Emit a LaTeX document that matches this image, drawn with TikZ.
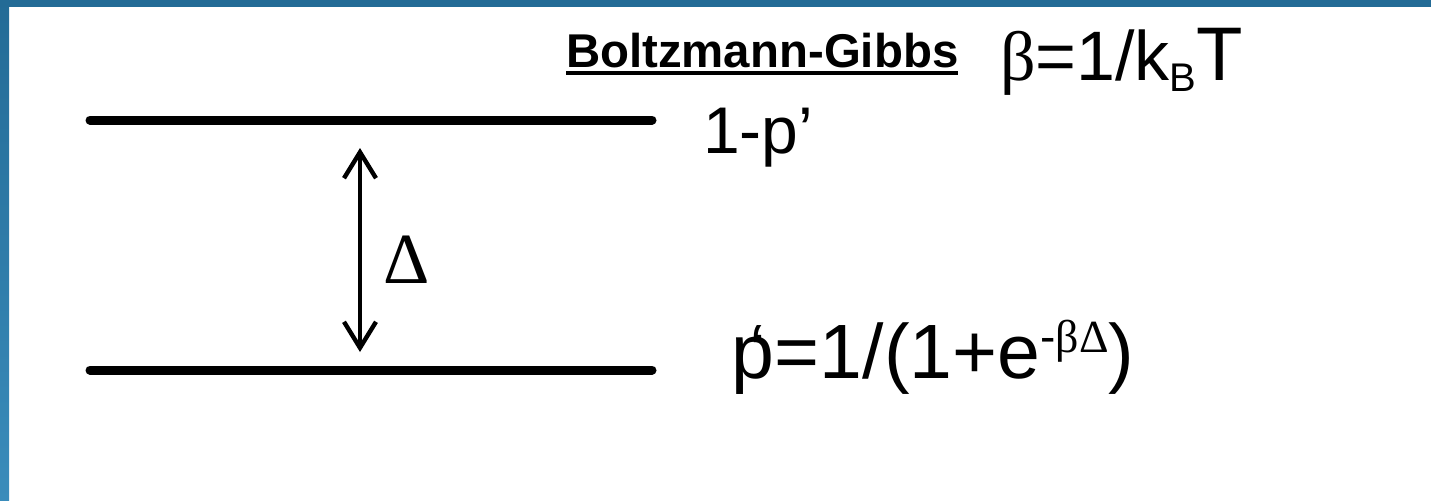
\documentclass[tikz,border=0pt]{standalone}
\usepackage{fontspec}
\setmainfont{Liberation Sans}
\newfontfamily\grk{Liberation Serif}
\usetikzlibrary{arrows.meta}
\definecolor{framebluetop}{HTML}{236B96}
\definecolor{framebluebot}{HTML}{3A8CBB}
\tikzset{
  lbl/.style={anchor=base west, inner sep=0pt, outer sep=0pt},
  levelline/.style={line width=4.5pt, line cap=round},
  gaparrow/.style={line width=2pt, {Straight Barb[length=13pt,width=16pt,line width=2.2pt]}-{Straight Barb[length=13pt,width=16pt,line width=2.2pt]}},
}
\newcommand{\fsz}[1]{\fontsize{#1}{#1}\selectfont}
\begin{document}
\begin{tikzpicture}[x=0.5pt,y=-0.5pt]
\useasboundingbox (0,0) rectangle (1431,500);
\fill[white] (0,0) rectangle (1431,500);
\shade[top color=framebluetop,bottom color=framebluebot] (0,0) rectangle (9,500);
\fill[framebluetop] (0,0) rectangle (1431,7);

\coordinate (u1) at (90,120); \coordinate (u2) at (652,120);
\coordinate (l1) at (90,370); \coordinate (l2) at (652,370);
\draw[levelline] (u1) -- (u2);
\draw[levelline] (l1) -- (l2);

\coordinate (at) at (360,148); \coordinate (ab) at (360,352);
\draw[gaparrow] (at) -- (ab);

\node[lbl] (delta) at (383,283) {\grk\fsz{36}Δ};

\node[lbl] (bg) at (566,67) {\fsz{23.7}\bfseries Boltzmann-Gibbs};
\draw[line width=2pt] ([yshift=-3pt]bg.base west) -- ([yshift=-3pt]bg.base east);

\node[lbl] (beta) at (1000,80) {\fsz{35}{\grk β}=1/k\raisebox{-5.5pt}{\fsz{20}B}{\fsz{38}T}};

\node[lbl] (up) at (703,153) {\fsz{33}1-p’};

\node[lbl] (low) at (731,378) {\fsz{38.5}p\kern-12pt‘\kern4pt=1/(1+e\raisebox{13pt}{\fsz{23}-{\grk βΔ}})};
\end{tikzpicture}
\end{document}
